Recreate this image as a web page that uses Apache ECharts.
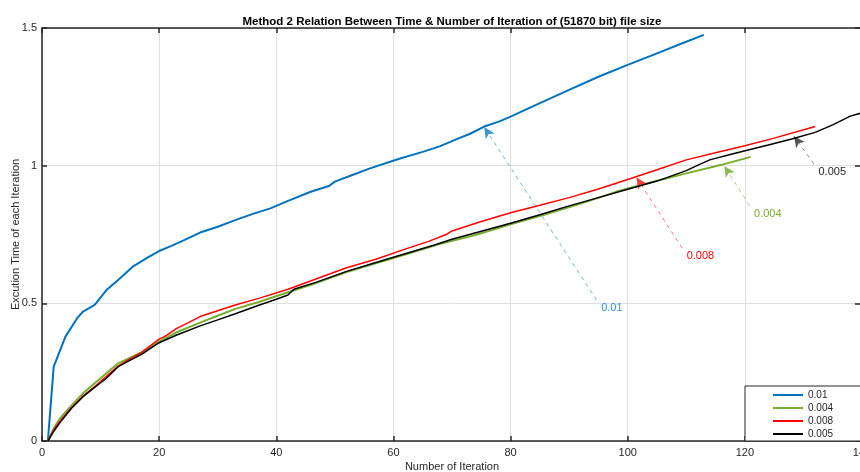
<!DOCTYPE html>
<html>
<head>
<meta charset="utf-8">
<script src="https://cdn.jsdelivr.net/npm/echarts@6/dist/echarts.min.js"></script>
<style>
  html, body { margin: 0; padding: 0; background: #fff; }
  #chart { width: 860px; height: 472px; }
</style>
</head>
<body>
<div id="chart"></div>
<script>
// series values (iteration, time)
const blueX = [1, 2, 4, 6, 7, 9, 11, 13, 15.5, 18, 20, 22, 24, 27, 30, 33, 36, 39, 42, 46, 49, 50, 53, 56, 61, 65, 68, 71, 73, 75.5, 78, 80, 85, 90, 95, 100, 105, 109, 113]
const blueY = [0, 0.27, 0.379, 0.446, 0.47, 0.494, 0.548, 0.585, 0.633, 0.666, 0.69, 0.708, 0.727, 0.757, 0.778, 0.802, 0.825, 0.845, 0.872, 0.906, 0.926, 0.942, 0.966, 0.99, 1.025, 1.05, 1.071, 1.098, 1.115, 1.142, 1.16, 1.178, 1.227, 1.275, 1.323, 1.366, 1.408, 1.442, 1.475]

const greenX = [1, 2, 3, 5, 7, 9, 11, 13, 15, 17, 20, 23, 27, 30, 33, 37, 42, 47, 52, 57, 63, 68, 74, 80, 86, 92, 98, 104, 110, 116, 121]
const greenY = [0, 0.046, 0.08, 0.128, 0.173, 0.21, 0.246, 0.282, 0.302, 0.322, 0.361, 0.395, 0.43, 0.455, 0.48, 0.505, 0.54, 0.575, 0.614, 0.645, 0.684, 0.716, 0.748, 0.787, 0.823, 0.862, 0.905, 0.94, 0.972, 1.003, 1.032]

const redX = [1, 2, 3, 5, 7, 9, 11, 13, 15, 17, 20, 21, 23, 25, 27, 30, 33, 37, 42, 47, 52, 57, 62, 66, 69, 70, 75, 80, 85, 90, 95, 100, 105, 110, 115, 120, 125, 132]
const redY = [0, 0.04, 0.07, 0.12, 0.163, 0.198, 0.235, 0.272, 0.298, 0.322, 0.37, 0.38, 0.409, 0.43, 0.452, 0.473, 0.494, 0.518, 0.551, 0.59, 0.629, 0.66, 0.697, 0.725, 0.75, 0.763, 0.797, 0.829, 0.856, 0.884, 0.915, 0.95, 0.985, 1.021, 1.047, 1.072, 1.1, 1.142]

const blackX = [1, 2, 3, 5, 7, 9, 11, 13, 15, 17, 20, 23, 27, 30, 33, 37, 40, 42, 43, 47, 52, 57, 62, 67, 70, 75, 80, 85, 90, 95, 100, 105, 110, 112, 114, 118, 124, 128, 132, 135, 138, 140]
const blackY = [0, 0.035, 0.065, 0.118, 0.161, 0.195, 0.228, 0.27, 0.293, 0.315, 0.357, 0.385, 0.418, 0.44, 0.462, 0.493, 0.515, 0.53, 0.551, 0.578, 0.616, 0.648, 0.68, 0.712, 0.733, 0.762, 0.791, 0.822, 0.854, 0.884, 0.914, 0.944, 0.982, 1.002, 1.021, 1.043, 1.075, 1.097, 1.121, 1.148, 1.18, 1.192]

const seriesNames = ['0.01', '0.004', '0.008', '0.005']
const seriesColors = ['#0072BD', '#77AC30', '#FF0000', '#000000']
const seriesWidths = [2, 2, 1.5, 1.5]
const xs = [blueX, greenX, redX, blackX]
const ys = [blueY, greenY, redY, blackY]

// annotation arrows, same order as the series: tail (where the text sits) -> head (on the curve)
const annoTail = [[94.7, 0.512], [120.8, 0.855], [109.3, 0.7], [131.8, 1.006]]
const annoHead = [[75.5, 1.14], [116.5, 0.999], [101.5, 0.957], [128.4, 1.107]]
const annoLine = ['#3d95d6', '#8ab957', '#ff3c3c', '#555555']
const annoText = ['#2e8fd6', '#77AC30', '#FF0000', '#262626']

const xTicks = { min: 0, max: 140, interval: 20 }
const yTicks = { min: 0, max: 1.5, interval: 0.5 }

const font = "'Liberation Sans', Arial, sans-serif"
const ink = '#262626'

const chart = echarts.init(document.getElementById('chart'))

const series = seriesNames.map((name, i) => ({
  name: name,
  type: 'line',
  symbol: 'none',
  data: xs[i].map((x, j) => [x, ys[i][j]]),
  lineStyle: { color: seriesColors[i], width: seriesWidths[i] },
  itemStyle: { color: seriesColors[i] },
  z: 2 + i,
  markLine: {
    silent: true,
    symbol: ['none', 'arrow'],
    symbolSize: [8, 11],
    label: { show: false },
    lineStyle: { color: annoLine[i], type: [4, 4], width: 0.7 },
    emphasis: { disabled: true },
    data: [[
      { coord: annoTail[i], symbol: 'none' },
      { coord: annoHead[i], symbol: 'arrow' }
    ]]
  },
  markPoint: {
    silent: true,
    symbol: 'circle',
    symbolSize: 1,
    itemStyle: { color: 'rgba(0,0,0,0)' },
    label: {
      show: true,
      position: 'right',
      distance: 4,
      offset: [0, 8],
      formatter: name,
      color: annoText[i],
      fontSize: 11,
      fontFamily: font
    },
    data: [{ coord: annoTail[i] }]
  }
}))

const option = {
  animation: false,
  backgroundColor: '#fff',
  title: {
    text: 'Method 2 Relation Between Time & Number of Iteration of (51870 bit) file size',
    left: 447,
    textAlign: 'center',
    top: 11,
    textStyle: { fontSize: 11.5, fontWeight: 'bold', color: '#000', fontFamily: font }
  },
  grid: { left: 42, top: 28, width: 820, height: 413, outerBoundsMode: 'none', containLabel: false },
  legend: {
    data: seriesNames,
    orient: 'vertical',
    left: 745,
    top: 386,
    padding: [3, 60, 1, 28],
    icon: 'rect',
    itemWidth: 30,
    itemHeight: 2,
    itemGap: 1,
    backgroundColor: '#fff',
    borderColor: ink,
    borderWidth: 1,
    textStyle: { fontSize: 10, lineHeight: 12, color: ink, fontFamily: font },
    z: 10
  },
  xAxis: [
    {
      type: 'value',
      position: 'bottom',
      min: xTicks.min, max: xTicks.max, interval: xTicks.interval,
      name: 'Number of Iteration',
      nameLocation: 'middle',
      nameGap: 20,
      nameMoveOverlap: false,
      nameTextStyle: { fontSize: 11, color: ink, fontFamily: font },
      axisLine: { show: true, onZero: false, lineStyle: { color: ink, width: 1.5 } },
      axisTick: { show: true, inside: true, length: 5, lineStyle: { color: ink, width: 1.5 } },
      axisLabel: { fontSize: 11, color: ink, margin: 6, fontFamily: font },
      splitLine: { show: true, lineStyle: { color: '#dfdfdf', width: 1 } }
    },
    {
      type: 'value',
      position: 'top',
      min: xTicks.min, max: xTicks.max, interval: xTicks.interval,
      axisLine: { show: true, onZero: false, lineStyle: { color: ink, width: 1.5 } },
      axisTick: { show: true, inside: true, length: 5, lineStyle: { color: ink, width: 1.5 } },
      axisLabel: { show: false },
      splitLine: { show: false }
    }
  ],
  yAxis: [
    {
      type: 'value',
      position: 'left',
      min: yTicks.min, max: yTicks.max, interval: yTicks.interval,
      name: 'Excution Time of each Iteration',
      nameLocation: 'middle',
      nameGap: 21,
      nameMoveOverlap: false,
      nameTextStyle: { fontSize: 11, color: ink, fontFamily: font },
      axisLine: { show: true, onZero: false, lineStyle: { color: ink, width: 1.5 } },
      axisTick: { show: true, inside: true, length: 5, lineStyle: { color: ink, width: 1.5 } },
      axisLabel: { fontSize: 11, color: ink, margin: 5, fontFamily: font },
      splitLine: { show: true, lineStyle: { color: '#dfdfdf', width: 1 } }
    },
    {
      type: 'value',
      position: 'right',
      min: yTicks.min, max: yTicks.max, interval: yTicks.interval,
      axisLine: { show: true, onZero: false, lineStyle: { color: ink, width: 1.5 } },
      axisTick: { show: true, inside: true, length: 7, lineStyle: { color: ink, width: 1.5 } },
      axisLabel: { show: false },
      splitLine: { show: false }
    }
  ],
  series: series
}

chart.setOption(option)
</script>
</body>
</html>
